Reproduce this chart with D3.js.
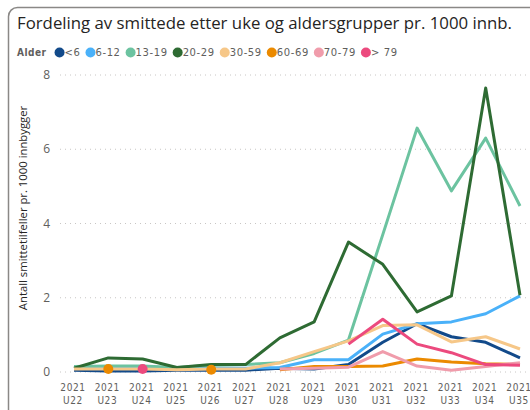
<!DOCTYPE html>
<html>
<head>
<meta charset="utf-8">
<script src="https://cdn.jsdelivr.net/npm/d3@7"></script>
<style>
  body { margin: 0; background: #fff; }
  svg { display: block; }
</style>
</head>
<body>
<div id="chart"></div>
<script>
// weekly cases per 1000 inhabitants, by age group (null = no data that week)
var years = ['2021','2021','2021','2021','2021','2021','2021','2021','2021','2021','2021','2021','2021','2021'];
var weeks = ['U22','U23','U24','U25','U26','U27','U28','U29','U30','U31','U32','U33','U34','U35'];

var ageGroups = ['<6','6-12','13-19','20-29','30-59','60-69','70-79','> 79'];
var ageColors = ['#124A8A','#4AB1F9','#6CC3A0','#2E6B33','#F6C788','#EB8A00','#F09CAB','#EC4A7E'];

var under6   = [0.05, 0.03, 0.03, 0.05, 0.05, 0.05, 0.1, 0.08, 0.2, 0.8, 1.3, 0.95, 0.8, 0.38];
var age6_12  = [0.1, 0.1, 0.1, 0.08, 0.1, 0.1, 0.12, 0.33, 0.33, 1.02, 1.3, 1.35, 1.57, 2.05];
var age13_19 = [0.15, 0.16, 0.16, 0.12, 0.18, 0.2, 0.25, 0.5, 0.86, 3.7, 6.57, 4.88, 6.3, 4.47];
var age20_29 = [0.1, 0.38, 0.35, 0.12, 0.2, 0.2, 0.92, 1.35, 3.5, 2.9, 1.62, 2.05, 7.65, 2.07];
var age30_59 = [0.08, 0.08, 0.08, 0.06, 0.08, 0.08, 0.25, 0.55, 0.84, 1.25, 1.27, 0.81, 0.95, 0.62];
var age60_69 = [null, 0.08, null, null, 0.06, null, 0.06, 0.15, 0.15, 0.16, 0.35, 0.27, 0.22, 0.2];
var age70_79 = [null, null, null, null, null, null, 0.08, 0.1, 0.13, 0.55, 0.16, 0.05, 0.15, 0.25];
var over79   = [null, null, 0.08, null, null, null, null, null, 0.75, 1.42, 0.75, 0.52, 0.2, 0.18];

var series = [under6, age6_12, age13_19, age20_29, age30_59, age60_69, age70_79, over79];
var yTicks = [0, 2, 4, 6, 8];

var W = 530, H = 410;
var svg = d3.select('#chart').append('svg')
    .attr('width', W)
    .attr('height', H);

var condensed = '"DejaVu Sans Condensed", "Liberation Sans Narrow", "Roboto", sans-serif';

// card frame (only left/top visible in the crop)
svg.append('rect')
    .attr('x', 8.5).attr('y', 7.5)
    .attr('width', 540).attr('height', 420)
    .attr('rx', 9)
    .attr('fill', 'none')
    .attr('stroke', '#8a8886')
    .attr('stroke-width', 1.5);

svg.append('text')
    .attr('x', 17).attr('y', 29)
    .text('Fordeling av smittede etter uke og aldersgrupper pr. 1000 innb.')
    .attr('fill', '#252423')
    .style('font-family', '"Open Sans", "Segoe UI", sans-serif')
    .style('font-size', '16.8px');

// legend
var legend = svg.append('g').attr('transform', 'translate(17,56)');
var alder = legend.append('text')
    .text('Alder')
    .attr('fill', '#605E5C')
    .style('font-family', condensed)
    .style('font-weight', 'bold')
    .style('font-size', '10px')
    .style('letter-spacing', '0.5px');

var lx = alder.node().getComputedTextLength() + 13;
ageGroups.forEach(function(g, i){
    var item = legend.append('g').attr('transform', 'translate(' + lx + ',0)');
    item.append('circle')
        .attr('cx', 0).attr('cy', -3.5).attr('r', 5)
        .attr('fill', ageColors[i]);
    var t = item.append('text')
        .attr('x', 5)
        .text(g)
        .attr('fill', '#605E5C')
        .style('font-family', '"DejaVu Sans", sans-serif')
        .style('font-size', '10px')
        .style('letter-spacing', '0.6px');
    lx += 5 + t.node().getComputedTextLength() + 10;
});

var x = d3.scalePoint()
    .domain(weeks)
    .range([74, 520]);

var y = d3.scaleLinear()
    .domain([0, 8])
    .range([372, 75]);

// gridlines
svg.append('g')
    .selectAll('line')
    .data(yTicks)
    .join('line')
    .attr('x1', 60).attr('x2', 530)
    .attr('y1', d => y(d)).attr('y2', d => y(d))
    .attr('stroke', '#C8C6C4')
    .attr('stroke-width', 1)
    .attr('stroke-dasharray', '1,4');

svg.append('g')
    .selectAll('text')
    .data(yTicks)
    .join('text')
    .attr('x', 50).attr('y', d => y(d) + 4)
    .attr('text-anchor', 'end')
    .text(d => d)
    .attr('fill', '#605E5C')
    .style('font-family', '"Open Sans", sans-serif')
    .style('font-size', '12px');

svg.append('g')
    .attr('transform', 'translate(27,208) rotate(-90)')
    .append('text')
    .attr('text-anchor', 'middle')
    .text('Antall smittetilfeller pr. 1000 innbygger')
    .attr('fill', '#252423')
    .style('font-family', '"Open Sans", sans-serif')
    .style('font-size', '11.3px');

// x labels (two lines)
var xl = svg.append('g')
    .selectAll('text')
    .data(weeks)
    .join('text')
    .attr('text-anchor', 'middle')
    .attr('fill', '#605E5C')
    .style('font-family', condensed)
    .style('font-size', '10px')
    .style('letter-spacing', '0.6px');
xl.append('tspan').attr('x', d => x(d) - 1).attr('y', 391).text((d, i) => years[i]);
xl.append('tspan').attr('x', d => x(d) - 1).attr('y', 404).text(d => d);

// lines
var line = d3.line()
    .defined(d => d != null)
    .x((d, i) => x(weeks[i]))
    .y(d => y(d));

var plot = svg.append('g');
series.forEach(function(s, k){
    plot.append('path')
        .attr('d', line(s))
        .attr('fill', 'none')
        .attr('stroke', ageColors[k])
        .attr('stroke-width', 3)
        .attr('stroke-linejoin', 'round');

    // isolated points get a marker
    s.forEach(function(v, i){
        if (v == null) return;
        var prev = i > 0 ? s[i-1] : null;
        var next = i < s.length - 1 ? s[i+1] : null;
        if (prev == null && next == null){
            plot.append('circle')
                .attr('cx', x(weeks[i]))
                .attr('cy', y(v))
                .attr('r', 5)
                .attr('fill', ageColors[k]);
        }
    });
});
</script>
</body>
</html>
